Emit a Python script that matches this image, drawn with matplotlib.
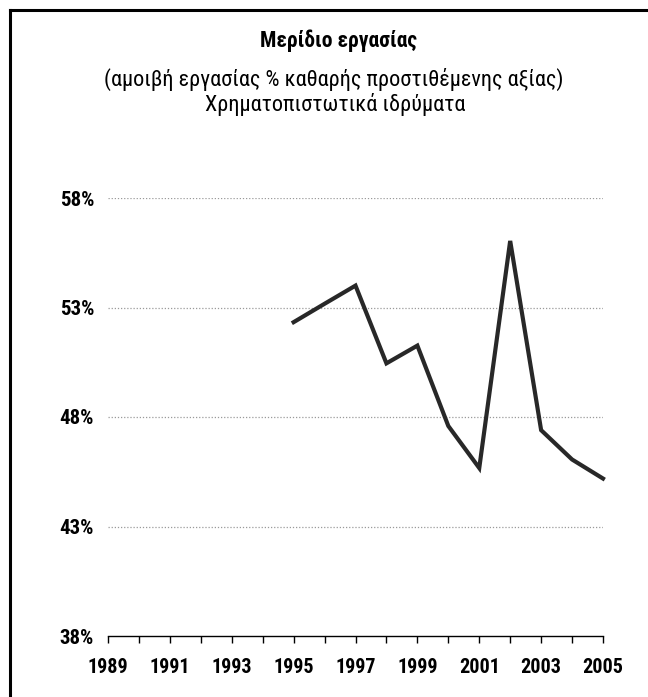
import matplotlib
matplotlib.use("Agg")
import matplotlib.pyplot as plt
from matplotlib.lines import Line2D

FONTS = ['Roboto Condensed', 'Fira Sans Condensed', 'IBM Plex Sans Condensed', 'DejaVu Sans']
plt.rcParams['font.family'] = FONTS

years = [1995, 1996, 1997, 1998, 1999, 2000, 2001, 2002, 2003, 2004, 2005]
labour_share = [52.33, 53.17, 54.0, 50.45, 51.26, 47.59, 45.67, 56.04, 47.4, 46.06, 45.19]
y_ticks = [38, 43, 48, 53, 58]
y_ticklabels = ["38%", "43%", "48%", "53%", "58%"]
x_minor = list(range(1989, 2006))
x_major = list(range(1989, 2006, 2))
title = "Μερίδιο εργασίας"
subtitle_1 = "(αμοιβή εργασίας % καθαρής προστιθέμενης αξίας)"
subtitle_2 = "Χρηματοπιστωτικά ιδρύματα"

W, H = 648, 697
fig = plt.figure(figsize=(W / 100, H / 100), dpi=100)
fig.patch.set_facecolor("white")

ax = fig.add_axes([108 / W, (H - 636) / H, (603 - 108) / W, (636 - 198) / H])
ax.plot(years, labour_share, color="#282828", lw=3.0, solid_joinstyle="miter", clip_on=False)
ax.set_xlim(1989, 2005)
ax.set_ylim(38, 58)

for v in y_ticks[1:]:
    ax.axhline(v, color="#9a9a9a", lw=0.9, ls=(0, (1, 1.5)), zorder=0)

ax.set_yticks(y_ticks)
ax.set_yticklabels(y_ticklabels, fontsize=15, fontweight="bold")
ax.tick_params(axis="y", length=0, pad=10)

ax.set_xticks(x_minor)
ax.set_xticklabels([str(y) if y in x_major else "" for y in x_minor], fontsize=14.5, fontweight="bold")
ax.tick_params(axis="x", length=5, width=1, color="black", pad=11, direction="out")

for s in ["left", "right", "top"]:
    ax.spines[s].set_visible(False)
ax.spines["bottom"].set_color("black")
ax.spines["bottom"].set_linewidth(1.0)

fig.text(339 / W, 1 - 41 / H, title, ha="center", va="center", fontsize=15.5, fontweight="bold")
fig.text(334 / W, 1 - 79 / H, subtitle_1, ha="center", va="center", fontsize=16)
fig.text(335 / W, 1 - 104 / H, subtitle_2, ha="center", va="center", fontsize=16)

# frame
fig.add_artist(Line2D([10 / W, 10 / W], [0, 1 - 10 / H], color="black", lw=2.2, transform=fig.transFigure))
fig.add_artist(Line2D([10 / W, 1], [1 - 10 / H, 1 - 10 / H], color="black", lw=2.2, transform=fig.transFigure))

fig.savefig("out.png", dpi=100)
